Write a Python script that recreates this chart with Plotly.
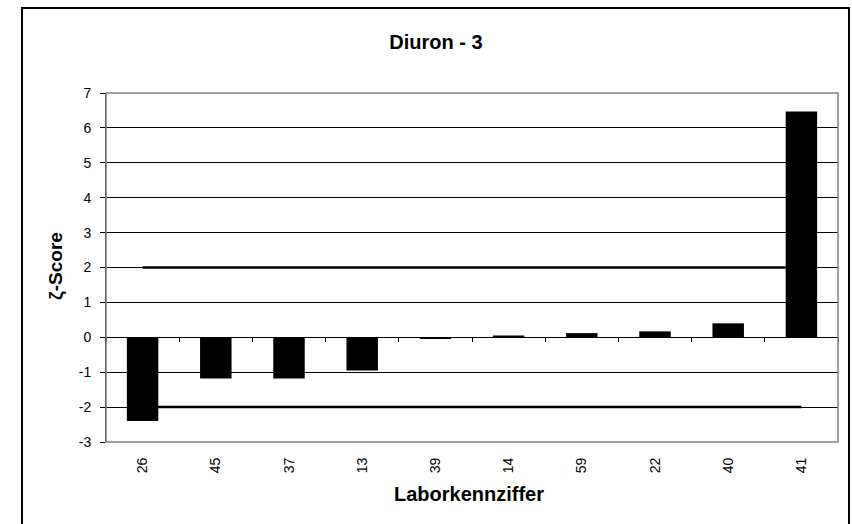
import plotly.graph_objs as go

# Laborkennziffer und zugehoerige zeta-Scores
labs = ["26", "45", "37", "13", "39", "14", "59", "22", "40", "41"]
zscores = [-2.40, -1.18, -1.18, -0.95, -0.05, 0.05, 0.12, 0.17, 0.40, 6.47]
upper_limit = 2
lower_limit = -2
y_min, y_max = -3, 7
y_ticks = list(range(y_min, y_max + 1))

font = "Liberation Sans, Arial, sans-serif"

fig = go.Figure()

fig.add_trace(go.Bar(x=labs, y=zscores, marker=dict(color="black", line=dict(width=0)),
                     width=0.43, xaxis="x", yaxis="y"))

for lim in (upper_limit, lower_limit):
    fig.add_trace(go.Scatter(x=[labs[0], labs[-1]], y=[lim, lim], mode="lines",
                             line=dict(color="black", width=2.5),
                             xaxis="x2", yaxis="y"))

zero_pos = (0 - y_min) / (y_max - y_min)

fig.update_layout(
    width=852, height=524,
    margin=dict(l=106, r=14, t=93, b=82),
    paper_bgcolor="white", plot_bgcolor="white",
    showlegend=False,
    font=dict(family=font, size=14, color="black"),
    title=dict(text="<b>Diuron - 3</b>", x=436 / 852, xanchor="center",
               y=1 - 42 / 524, yanchor="middle", font=dict(size=20)),
    xaxis=dict(type="category", categoryorder="array", categoryarray=labs,
               range=[-0.5, len(labs) - 0.5], showgrid=False, zeroline=False,
               showline=False, ticks="", tickangle=-90, ticklabelstandoff=12,
               tickfont=dict(size=14)),
    xaxis2=dict(type="category", categoryorder="array", categoryarray=labs,
                range=[-0.5, len(labs) - 0.5], overlaying="x", anchor="free",
                position=zero_pos, showgrid=False, zeroline=False,
                showline=True, linecolor="black", linewidth=1,
                ticks="outside", ticklen=4, tickcolor="black", tickwidth=1,
                tickson="boundaries", showticklabels=False),
    yaxis=dict(range=[y_min, y_max], tickvals=y_ticks,
               ticktext=[str(v) for v in y_ticks],
               showgrid=True, gridcolor="black",
               gridwidth=1, zeroline=True, zerolinecolor="black", zerolinewidth=1,
               showline=True, linecolor="black", linewidth=1,
               ticks="outside", ticklen=5, tickcolor="black",
               ticklabelstandoff=6, tickfont=dict(size=14)),
    shapes=[
        dict(type="rect", xref="paper", yref="paper", x0=0, x1=1, y0=0, y1=1,
             line=dict(color="#808080", width=1.5), layer="above"),
        dict(type="rect", xref="paper", yref="paper",
             x0=(22 - 106) / 732, x1=(849 - 106) / 732,
             y0=(442 - 530) / 349, y1=(442 - 8) / 349,
             line=dict(color="black", width=2)),
    ],
    annotations=[
        dict(text="<b>ζ-Score</b>", xref="paper", yref="paper",
             x=(56 - 106) / 732, y=(442 - 266) / 349, textangle=-90,
             showarrow=False, font=dict(size=19), xanchor="center", yanchor="middle"),
        dict(text="<b>Laborkennziffer</b>", xref="paper", yref="paper",
             x=(469 - 106) / 732, y=(442 - 494) / 349,
             showarrow=False, font=dict(size=20), xanchor="center", yanchor="middle"),
    ],
)

# Browser-Standardrand der Seite entfernen, Werkzeugleiste ausblenden
fig.write_html("out.html", config={"displayModeBar": False},
               post_script="document.body.style.margin='0';")
